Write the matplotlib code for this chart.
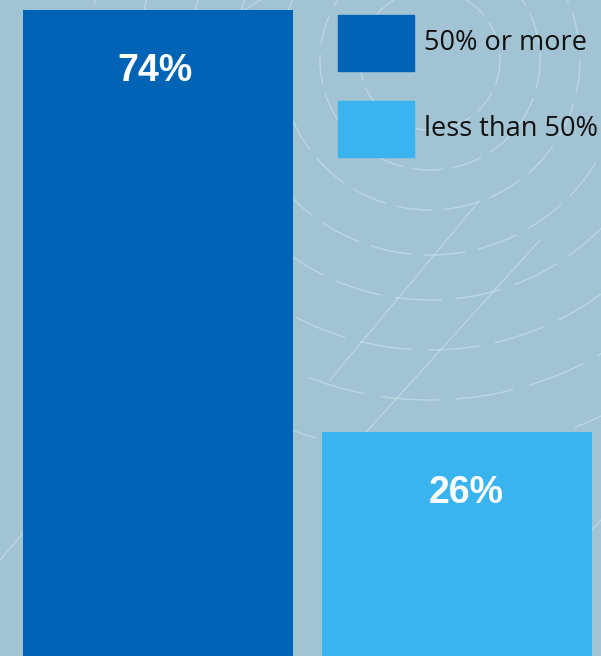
import numpy as np
import matplotlib.pyplot as plt
from matplotlib.patches import Rectangle, Arc

categories = ["50% or more", "less than 50%"]
shares = [74, 26]
value_labels = ["74%", "26%"]
bar_colors = ["#0064b6", "#3ab4ef"]
bg_color = "#a2c3d3"

fig = plt.figure(figsize=(6.01, 6.56), dpi=100, facecolor=bg_color)

# decorative dashed rings behind the chart, in pixel coords
deco = fig.add_axes([0, 0, 1, 1], zorder=-1)
deco.set_xlim(0, 601)
deco.set_ylim(656, 0)
deco.axis("off")
for i, r in enumerate([70, 110, 150, 195, 240, 290, 340, 395]):
    deco.add_patch(Arc((430, 60), 2 * r, 2 * r, theta1=0, theta2=360,
                       color="#d8eef2", lw=1.0, alpha=0.45,
                       linestyle=(i % 3, (18 + 4 * i, 6 + i))))
for x0, y0, x1, y1 in [(330, 380, 480, 200), (350, 450, 540, 240), (0, 560, 120, 420),
                       (480, 656, 601, 520), (200, 40, 260, 0)]:
    deco.plot([x0, x1], [y0, y1], color="#d8eef2", lw=0.9, alpha=0.45)

ax = fig.add_axes([0, 0, 1, 1])
ax.patch.set_alpha(0)
x = np.arange(len(shares))
ax.bar(x, shares, width=0.903, color=bar_colors, zorder=2)
ax.set_xlim(-0.528, 1.482)
ax.set_ylim(0.52, 75.14)
ax.axis("off")

# value labels sit ~61px below the top of each bar
label_shift = [-0.01, 0.03]
for i, (v, lab) in enumerate(zip(shares, value_labels)):
    ax.annotate(lab, (x[i] + label_shift[i], v), xytext=(0, -44), textcoords="offset points",
                ha="center", va="center", color="white", fontsize=27,
                fontweight="bold", family="Liberation Sans", zorder=3)

# legend drawn by hand so the big square swatches match
leg = fig.add_axes([0, 0, 1, 1], zorder=5)
leg.set_xlim(0, 601)
leg.set_ylim(656, 0)
leg.axis("off")
leg.patch.set_alpha(0)
for i, (name, c) in enumerate(zip(categories, bar_colors)):
    top = 15 + i * 86
    leg.add_patch(Rectangle((338, top), 76, 56, color=c))
    leg.text(424, top + 28, name, ha="left", va="center", fontsize=19.5,
             family="Open Sans", color="#111111")

fig.savefig("out.png", dpi=100, facecolor=bg_color)
